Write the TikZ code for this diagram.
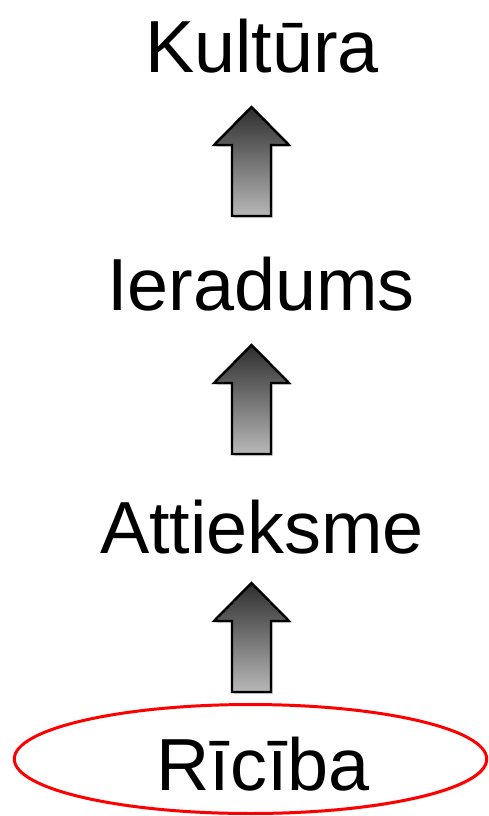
\documentclass[tikz,border=0pt]{standalone}
\usepackage{fontspec}
\setmainfont{Liberation Sans}
\usetikzlibrary{shapes.geometric,shadows,positioning}

\tikzset{
  word/.style={anchor=base,inner sep=0pt,font=\fontsize{42}{50}\selectfont},
  blockarrow/.style={draw=black,line width=1.4pt,line join=miter,
    top color=black!82,bottom color=black!28,
    drop shadow={opacity=0.35,shadow xshift=1.2pt,shadow yshift=-1.2pt}},
  ring/.style={draw=red,fill=white,ellipse,line width=1.7pt,
    drop shadow={opacity=0.2,shadow xshift=1pt,shadow yshift=-1pt,fill=black!60}}
}
% block arrow with its tip at coordinate #1
\newcommand{\uparr}[1]{
  \path[blockarrow] (#1) -- ++(37.5,38) -- ++(-18,0) -- ++(0,71)
    -- ++(-39,0) -- ++(0,-71) -- ++(-18,0) -- cycle;
}

\begin{document}
\begin{tikzpicture}[x=0.02cm,y=-0.02cm]
\useasboundingbox (0,0) rectangle (489,816);

\node[ring,minimum width=9.45cm,minimum height=2.18cm] (ring) at (250.5,759) {};

\node[word] (kult) at (262,72) {Kultūra};
\node[word] (iera) at (261,310) {Ieradums};
\node[word] (attiek) at (262,553) {Attieksme};
\node[word] (ric) at (263,790) {Rīcība};

\coordinate (a1) at (251.5,107);
\coordinate (a2) at (251.5,345);
\coordinate (a3) at (251.5,583);

\uparr{a1}
\uparr{a2}
\uparr{a3}
\end{tikzpicture}
\end{document}
